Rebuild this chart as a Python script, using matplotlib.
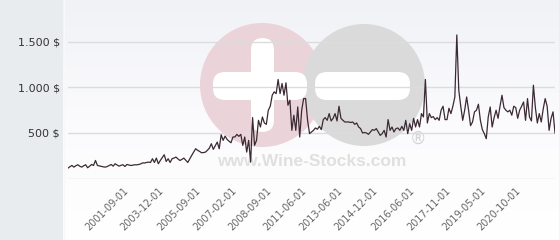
import numpy as np
import matplotlib.pyplot as plt
from matplotlib.colors import LinearSegmentedColormap
from matplotlib.patches import Circle, FancyBboxPatch

# price history, one value per sale
prices = [114, 130, 143, 125, 140, 151, 135, 125, 140, 151,
          118, 135, 154, 143, 198, 143, 138, 132, 128, 125,
          132, 143, 154, 136, 162, 148, 136, 145, 151, 132,
          154, 148, 143, 146, 151, 150, 154, 160, 172, 170,
          176, 180, 176, 217, 176, 224, 162, 198, 230, 261,
          187, 217, 176, 217, 225, 235, 215, 198, 210, 224,
          200, 176, 215, 254, 290, 327, 310, 298, 283, 285,
          290, 310, 334, 382, 320, 360, 400, 327, 481, 419,
          466, 430, 410, 393, 456,
          456, 485, 463, 485, 364, 456, 290, 419, 180, 669,
          364, 419, 639, 566, 676, 610, 595, 750, 794, 915,
          952, 933, 1088, 933, 1044, 915, 1051, 805, 860, 529,
          695, 529, 786, 456, 750, 878, 878, 639, 493, 511,
          529, 555, 541, 573, 537, 647, 669, 639, 713, 632,
          661, 713, 632, 794, 661, 639, 621, 621, 621, 615,
          621, 595, 610, 566, 548, 500, 505, 500, 485, 511,
          537, 529, 548, 511, 474, 493, 529, 455, 647, 529,
          566, 511, 548,
          555, 529, 573, 529, 639, 493, 602, 529, 661, 566,
          647, 566, 713, 676, 1088, 610, 713, 669, 680, 647,
          669, 639, 750, 794, 647, 647, 772, 713, 794, 896,
          1577, 970, 794, 639, 750, 896, 750, 581, 621, 732,
          750, 816, 639, 537, 493, 437, 676, 786, 566, 669,
          750, 661, 794, 915, 779, 750, 732, 750, 695, 794,
          779, 661, 750, 794, 841, 639, 878, 676, 632, 1025,
          779, 610, 713, 621, 764, 878, 794, 529, 661, 732, 500]

# which sale carries which date label
tick_idx = [28, 46, 65, 83, 101, 119, 137, 155, 174, 192, 210, 228]
tick_dates = ['2001-09-01', '2003-12-01', '2005-09-01', '2007-02-01',
              '2008-09-01', '2011-06-01', '2013-06-01', '2014-12-01',
              '2016-06-01', '2017-11-01', '2019-05-01', '2020-10-01']
y_ticks = [500, 1000, 1500]

W, H = 560, 240
fig = plt.figure(figsize=(W / 100, H / 100), dpi=100)
fig.patch.set_facecolor('#e8ecef')

# background layer, pixel coordinates
bg = fig.add_axes([0, 0, 1, 1])
bg.set_xlim(0, W)
bg.set_ylim(H, 0)
bg.axis('off')
cmap = LinearSegmentedColormap.from_list('g', ['#f1f2f6', '#fbfbfd', '#ffffff'])
grad = np.linspace(0, 1, 200)[:, None]
bg.imshow(grad, cmap=cmap, extent=(63, W, H, 0), aspect='auto')
bg.plot([63.5, 63.5], [0, H], color='#f7f8fa', lw=1)
bg.plot([559.5, 559.5], [0, H], color='#d4d6d9', lw=1)

# watermark
bg.add_patch(Circle((262, 85), 62, color='#ebd3da', lw=0))
bg.add_patch(Circle((364, 85), 61, color='#dadada', lw=0))
rs = 'round,pad=0,rounding_size=12'
bg.add_patch(FancyBboxPatch((251, 38), 23, 94, boxstyle=rs, color='white', lw=0))
bg.add_patch(FancyBboxPatch((213, 72), 94, 28, boxstyle=rs, color='white', lw=0))
bg.add_patch(FancyBboxPatch((315, 72), 95, 28, boxstyle=rs, color='white', lw=0))
bg.text(312, 161, 'www.Wine-Stocks.com', ha='center', va='center', fontsize=12.5,
        fontweight='bold', color='#e0e0e0', family='Liberation Sans')
bg.text(418, 139, '\u00ae', ha='center', va='center', fontsize=12, color='#d4d4d4')

# main chart
ax = fig.add_axes([68 / W, (H - 178.5) / H, (555 - 68) / W, 178.5 / H])
ax.patch.set_alpha(0)
ax.plot(range(len(prices)), prices, color='#3b2a33', lw=0.9)
ax.set_xlim(0, len(prices) - 1)
ax.set_ylim(0, 1961)

ax.set_yticks([0] + y_ticks)
ax.set_yticklabels([''] + [f'{v:,}'.replace(',', '.') + ' $' for v in y_ticks])
ax.yaxis.grid(True, color='#dcdcdc', lw=1)
ax.set_axisbelow(True)
ax.tick_params(axis='y', length=0, pad=6, labelsize=8, labelcolor='#333333')

ax.set_xticks(tick_idx)
ax.set_xticklabels(tick_dates, rotation=45, ha='right', rotation_mode='anchor',
                   fontsize=7, color='#666666')
ax.tick_params(axis='x', length=0, pad=5)

for s in ax.spines.values():
    s.set_visible(False)

fig.savefig('out.png', dpi=100)
